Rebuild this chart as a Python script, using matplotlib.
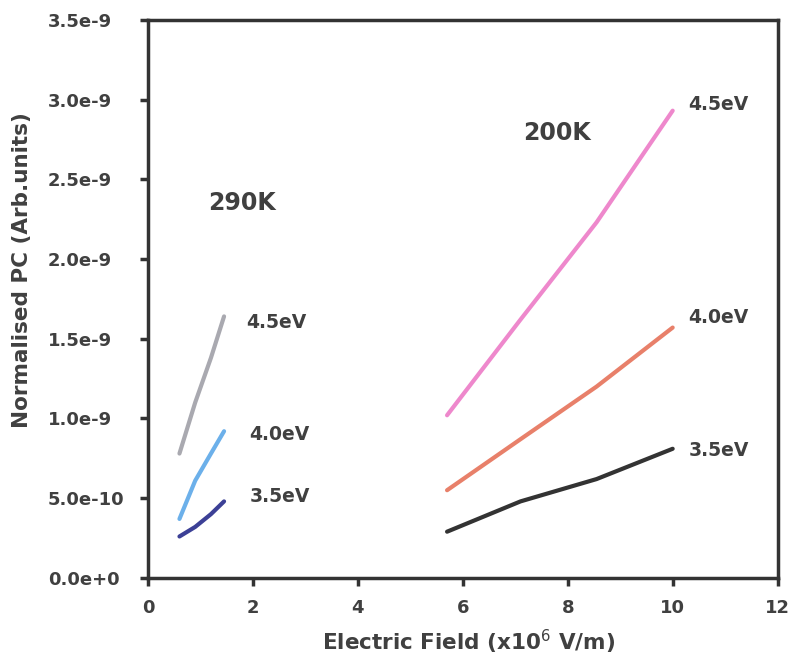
import numpy as np
import matplotlib.pyplot as plt

plt.rcParams['font.family'] = ['DejaVu Sans']

# 290K series (field in 1e6 V/m, PC in arb. units)
x_290 = [0.6, 0.9, 1.2, 1.45]
pc_290_45 = [0.78e-9, 1.10e-9, 1.38e-9, 1.64e-9]
pc_290_40 = [0.37e-9, 0.61e-9, 0.78e-9, 0.92e-9]
pc_290_35 = [0.26e-9, 0.32e-9, 0.40e-9, 0.48e-9]

# 200K series
x_200 = [5.7, 7.1, 8.55, 10.0]
pc_200_45 = [1.02e-9, 1.62e-9, 2.23e-9, 2.93e-9]
pc_200_40 = [0.55e-9, 0.87e-9, 1.20e-9, 1.57e-9]
pc_200_35 = [0.29e-9, 0.48e-9, 0.62e-9, 0.81e-9]

xticks = [0, 2, 4, 6, 8, 10, 12]
yticks = [0, 0.5e-9, 1.0e-9, 1.5e-9, 2.0e-9, 2.5e-9, 3.0e-9, 3.5e-9]
ytick_labels = ['0.0e+0', '5.0e-10', '1.0e-9', '1.5e-9', '2.0e-9', '2.5e-9', '3.0e-9', '3.5e-9']

fig = plt.figure(figsize=(7.93, 6.59), dpi=100)
ax = fig.add_axes([0.1866, 0.123, 0.794, 0.847])

lw = 3.0
ax.plot(x_290, pc_290_45, color='#a9a9b0', lw=lw, solid_capstyle='round')
ax.plot(x_290, pc_290_40, color='#6cb0ea', lw=lw, solid_capstyle='round')
ax.plot(x_290, pc_290_35, color='#3c4096', lw=lw, solid_capstyle='round')
ax.plot(x_200, pc_200_45, color='#ee88cc', lw=lw, solid_capstyle='round')
ax.plot(x_200, pc_200_40, color='#e8806a', lw=lw, solid_capstyle='round')
ax.plot(x_200, pc_200_35, color='#333333', lw=lw, solid_capstyle='round')

tc = '#404040'
lab = dict(fontsize=13.5, fontweight='bold', color=tc, va='center', ha='left')
ax.text(1.88, 1.60e-9, '4.5eV', **lab)
ax.text(1.93, 0.90e-9, '4.0eV', **lab)
ax.text(1.93, 0.51e-9, '3.5eV', **lab)
ax.text(10.3, 2.97e-9, '4.5eV', **lab)
ax.text(10.3, 1.63e-9, '4.0eV', **lab)
ax.text(10.3, 0.80e-9, '3.5eV', **lab)
ax.text(1.8, 2.35e-9, '290K', fontsize=17, fontweight='bold', color=tc, ha='center', va='center')
ax.text(7.8, 2.79e-9, '200K', fontsize=17, fontweight='bold', color=tc, ha='center', va='center')

ax.set_xlim(0, 12)
ax.set_ylim(0, 3.5e-9)
ax.set_xticks(xticks)
ax.set_yticks(yticks)
ax.set_yticklabels(ytick_labels)

for s in ax.spines.values():
    s.set_linewidth(2.5)
    s.set_color('#333333')
ax.tick_params(direction='out', length=6, width=2.5, color='#333333',
               labelsize=13, labelcolor=tc)
ax.tick_params(axis='x', pad=9)
ax.tick_params(axis='y', pad=66)
for t in ax.get_xticklabels() + ax.get_yticklabels():
    t.set_fontweight('bold')
for t in ax.get_yticklabels():
    t.set_horizontalalignment('left')

fig.text(0.591, 0.026, 'Electric Field (x10$^6$ V/m)', fontsize=15.5, fontweight='bold',
         color=tc, ha='center', va='center')
fig.text(0.028, 0.59, 'Normalised PC (Arb.units)', fontsize=15.5, fontweight='bold',
         color=tc, ha='center', va='center', rotation=90)

fig.savefig('out.png', dpi=100)
